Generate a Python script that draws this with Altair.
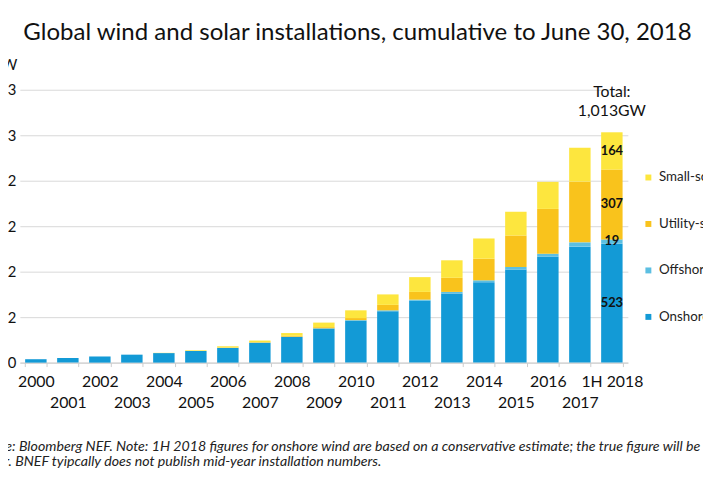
import altair as alt
import pandas as pd

years = ["2000", "2001", "2002", "2003", "2004", "2005", "2006", "2007", "2008",
         "2009", "2010", "2011", "2012", "2013", "2014", "2015", "2016", "2017", "1H 2018"]
onshore = [15, 20, 27, 35, 42, 51, 65, 87, 113, 150, 184, 226, 272, 304, 354, 410, 467, 510, 523]
offshore = [0, 0, 0, 0, 0, 0, 0, 1, 1, 1, 3, 4, 5, 7, 8, 11, 12, 19, 19]
utility = [0, 0, 0, 0, 0, 0, 1, 2, 4, 5, 9, 24, 34, 62, 95, 138, 197, 267, 307]
small = [0, 0, 0, 0, 1, 3, 6, 7, 12, 20, 34, 46, 65, 77, 89, 104, 119, 149, 164]

series_names = ["Onshore wind", "Offshore wind", "Utility-scale PV", "Small-scale PV"]
legend_order = ["Small-scale PV", "Utility-scale PV", "Offshore wind", "Onshore wind"]
legend_colors = ["#fde63e", "#f9c31c", "#5cbfe2", "#139ad6"]
y_ticks = [0, 200, 400, 600, 800, 1000, 1200]

title_text = "Global wind and solar installations, cumulative to June 30, 2018"
note_text = ("Source: Bloomberg NEF. Note: 1H 2018 figures for onshore wind are based on a conservative estimate; the true figure will be\n"
             "higher. BNEF tyipcally does not publish mid-year installation numbers.")

series_values = [onshore, offshore, utility, small]
rows = []
for i, yr in enumerate(years):
    for k, (name, vals) in enumerate(zip(series_names, series_values)):
        rows.append({"year": yr, "series": name, "value": vals[i], "order": k})
df = pd.DataFrame(rows)

last = years[-1]
cum = 0
lab_rows = []
for name, vals in zip(series_names, series_values):
    v = vals[-1]
    lab_rows.append({"year": last, "mid": cum + v / 2, "label": str(v)})
    cum += v
total = cum
lab_df = pd.DataFrame(lab_rows)
total_df = pd.DataFrame([{"year": last, "total": total, "text": f"Total:\n{total:,}GW"}])
note_df = pd.DataFrame([{"note": note_text}])

FONT = "Lato"
TXT = "#111111"

x_enc = alt.X(
    "year:N", sort=years, title=None,
    scale=alt.Scale(paddingInner=0.33, paddingOuter=0.165),
    axis=alt.Axis(
        labelAngle=0, labelFont=FONT, labelFontSize=16, labelColor=TXT,
        labelExpr="(datum.value == '1H 2018' || toNumber(datum.value) % 2 == 0) ? datum.value : ['', datum.value]",
        labelLineHeight=21, labelPadding=7, labelOverlap=False, labelBaseline="top",
        ticks=True, tickBand="extent", tickSize=4, tickColor="#cccccc",
        domain=True, domainColor="#cccccc", grid=False,
    ),
)

bars = alt.Chart(df).mark_bar().encode(
    x=x_enc,
    y=alt.Y(
        "value:Q", stack="zero", scale=alt.Scale(domain=[0, 1200], nice=False),
        axis=alt.Axis(
            values=y_ticks, format=",", title="GW", titleAngle=0, titleAlign="right",
            titleBaseline="middle", titleX=-3, titleY=-25, titleFont=FONT, titleFontSize=15,
            titleFontWeight="normal", titleColor=TXT,
            labelFont=FONT, labelFontSize=15, labelPadding=4, labelColor=TXT,
            domain=False, ticks=False, tickSize=0, grid=True, gridColor="#d9d9d9",
        ),
    ),
    color=alt.Color(
        "series:N",
        scale=alt.Scale(domain=legend_order, range=legend_colors),
        legend=alt.Legend(
            title=None, orient="none", legendX=629, legendY=82, symbolType="square",
            symbolSize=36, symbolStrokeWidth=0, labelFont=FONT, labelFontSize=13.5,
            labelColor="#222222", rowPadding=32, labelOffset=4, labelLimit=300, padding=0,
        ),
    ),
    order=alt.Order("order:Q", sort="ascending"),
)

seg_labels = alt.Chart(lab_df).mark_text(
    font=FONT, fontSize=13, fontWeight="bold", color=TXT, baseline="middle"
).encode(
    x=alt.X("year:N", sort=years),
    y=alt.Y("mid:Q"),
    text="label:N",
)

total_label = alt.Chart(total_df).mark_text(
    font=FONT, fontSize=16, color=TXT, baseline="bottom", lineBreak="\n", lineHeight=20, dy=-33
).encode(
    x=alt.X("year:N", sort=years),
    y=alt.Y("total:Q"),
    text="text:N",
)

note = alt.Chart(note_df).mark_text(
    font=FONT, fontSize=14.35, fontStyle="italic", color="#222222", align="left",
    baseline="alphabetic", lineBreak="\n", lineHeight=16
).encode(
    x=alt.value(-48),
    y=alt.value(365),
    text="note:N",
)

chart = alt.layer(bars, seg_labels, total_label, note).properties(
    width=615,
    height=276,
    padding={"left": 12, "top": 80, "right": 76, "bottom": 114},
    autosize=alt.AutoSizeParams(type="none"),
    title=alt.TitleParams(
        text=title_text, font=FONT, fontSize=24.3, fontWeight="normal", color=TXT,
        anchor="middle", frame="group", dx=34, offset=13,
    ),
).configure_view(stroke=None)

chart.save("out.html", embed_options={"renderer": "svg", "actions": False})
